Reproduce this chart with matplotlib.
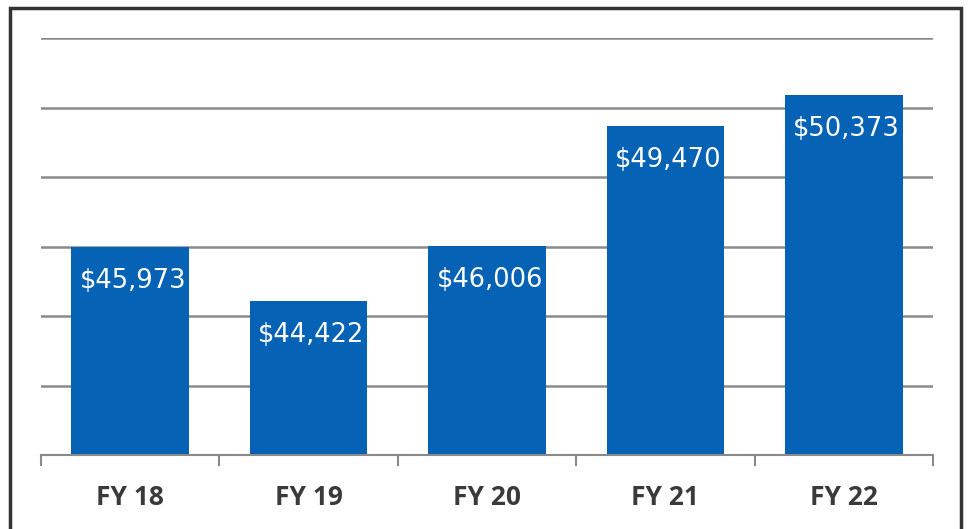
import matplotlib
matplotlib.use("Agg")
import matplotlib.pyplot as plt
from matplotlib.patches import Rectangle
import numpy as np

categories = ["FY 18", "FY 19", "FY 20", "FY 21", "FY 22"]
values = [45973, 44422, 46006, 49470, 50373]
labels = ["$45,973", "$44,422", "$46,006", "$49,470", "$50,373"]

W, H = 969, 529
fig = plt.figure(figsize=(W / 100, H / 100), dpi=100)
ax = fig.add_axes([41 / W, 1 - 455 / H, 892 / W, (455 - 38) / H])

x = np.arange(len(categories))
ax.set_ylim(40000, 52000)
ax.set_xlim(-0.5, len(categories) - 0.5)
for yv in range(42000, 52001, 2000):
    ax.axhline(yv, color="#8a8a8a", lw=1.8, zorder=1)
ax.bar(x, values, width=0.66, color="#0562b4", zorder=2)

for xi, v, lab in zip(x, values, labels):
    ax.annotate(lab, (xi, v), xytext=(2, -24.5), textcoords="offset points",
                ha="center", va="center", color="white", fontsize=18.5,
                family="DejaVu Sans", zorder=3)

for s in ["top", "right", "left"]:
    ax.spines[s].set_visible(False)
ax.spines["bottom"].set_color("#8a8a8a")
ax.spines["bottom"].set_linewidth(1.5)
ax.set_yticks([])
ax.set_xticks(x)
ax.set_xticklabels(categories, fontsize=19, fontweight="bold", family="Open Sans", color="#3a3a3a")
ax.tick_params(axis="x", which="major", length=0, pad=21)
ax.set_xticks(np.arange(-0.5, len(categories), 1.0), minor=True)
ax.tick_params(axis="x", which="minor", length=8, width=1.5, color="#8a8a8a")

fig.patches.append(Rectangle((10 / W, -0.1), (961 - 10) / W, 1.1 - 8 / H,
                             transform=fig.transFigure, fill=False,
                             edgecolor="#333333", lw=2.5))

fig.savefig("out.png", dpi=100)
